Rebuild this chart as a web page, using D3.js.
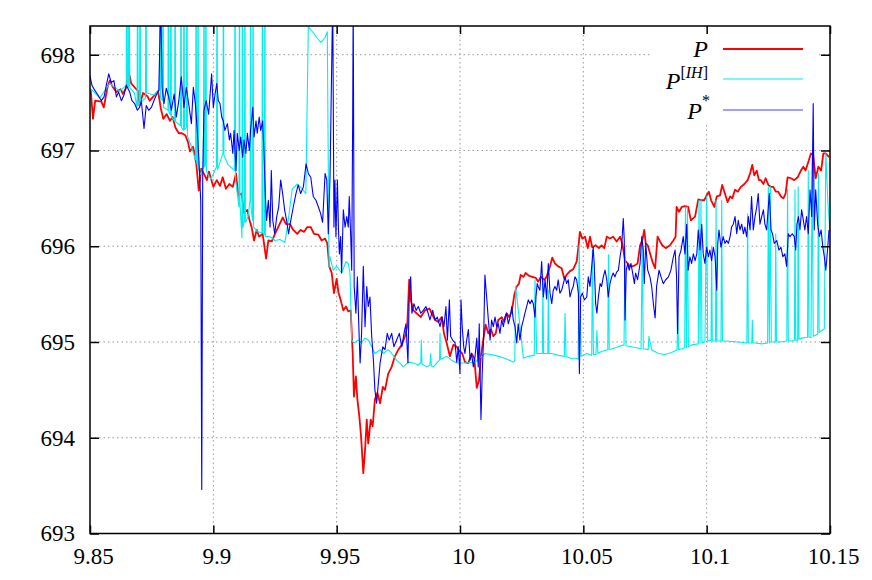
<!DOCTYPE html>
<html>
<head>
<meta charset="utf-8">
<script src="https://cdn.jsdelivr.net/npm/d3@7"></script>
<style>
  body { margin: 0; background: #fff; }
  text { font-family: "Liberation Serif", "Times New Roman", serif; }
</style>
</head>
<body>
<div id="chart-area"></div>
<script>

const xTicks = [9.85, 9.9, 9.95, 10, 10.05, 10.1, 10.15];
const yTicks = [693, 694, 695, 696, 697, 698];

// P
const seriesP = [
  [9.8503,697.63],[9.8512,697.33],[9.8521,697.52],[9.8546,697.51],[9.8556,697.45],[9.8570,697.65],
  [9.8580,697.73],[9.8593,697.66],[9.8607,697.61],[9.8624,697.64],[9.8634,697.59],[9.8647,697.66],
  [9.8657,697.82],[9.8667,697.70],[9.8684,697.65],[9.8695,697.62],[9.8701,697.47],[9.8715,697.60],
  [9.8732,697.57],[9.8742,697.52],[9.8759,697.57],[9.8776,697.62],[9.8787,697.44],[9.8797,697.33],
  [9.8811,697.38],[9.8824,697.31],[9.8835,697.35],[9.8846,697.24],[9.8860,697.18],[9.8873,697.18],
  [9.8886,697.16],[9.8897,697.09],[9.8905,696.99],[9.8918,697.04],[9.8931,696.86],[9.8941,696.58],
  [9.8951,696.81],[9.8965,696.74],[9.8974,696.69],[9.8982,696.78],[9.9000,696.62],[9.9014,696.69],
  [9.9027,696.63],[9.9038,696.72],[9.9051,696.60],[9.9065,696.65],[9.9079,696.62],[9.9092,696.76],
  [9.9101,696.53],[9.9115,696.55],[9.9124,696.35],[9.9138,696.38],[9.9146,696.28],[9.9156,696.19],
  [9.9165,696.06],[9.9176,696.17],[9.9186,696.10],[9.9200,696.13],[9.9214,695.87],[9.9223,696.06],
  [9.9237,696.05],[9.9250,696.13],[9.9263,696.20],[9.9281,696.30],[9.9295,696.23],[9.9311,696.23],
  [9.9324,696.17],[9.9340,696.13],[9.9354,696.17],[9.9368,696.15],[9.9381,696.20],[9.9395,696.20],
  [9.9408,696.13],[9.9426,696.12],[9.9439,696.06],[9.9453,696.08],[9.9462,696.03],[9.9470,695.79],
  [9.9480,695.72],[9.9489,695.51],[9.9500,695.66],[9.9507,695.52],[9.9516,695.44],[9.9527,695.33],
  [9.9538,695.37],[9.9547,695.32],[9.9557,695.33],[9.9565,694.88],[9.9570,694.43],[9.9578,694.64],
  [9.9584,694.40],[9.9592,694.22],[9.9599,694.01],[9.9608,693.63],[9.9615,693.87],[9.9622,694.19],
  [9.9628,693.94],[9.9638,694.19],[9.9646,694.12],[9.9655,694.40],[9.9665,694.47],[9.9676,694.36],
  [9.9687,694.53],[9.9696,694.50],[9.9709,694.67],[9.9723,694.74],[9.9736,694.85],[9.9750,694.92],
  [9.9764,694.97],[9.9777,695.06],[9.9786,695.16],[9.9794,695.65],[9.9800,695.44],[9.9811,695.33],
  [9.9824,695.30],[9.9841,695.26],[9.9858,695.33],[9.9876,695.35],[9.9885,695.30],[9.9899,695.23],
  [9.9912,695.21],[9.9926,695.26],[9.9935,695.09],[9.9946,694.99],[9.9959,694.85],[9.9973,694.97],
  [9.9987,694.95],[9.9993,694.92],[10.0009,694.88],[10.0020,694.79],[10.0034,694.78],[10.0047,694.88],
  [10.0058,694.83],[10.0068,694.52],[10.0077,694.60],[10.0085,694.85],[10.0094,695.02],[10.0104,695.18],
  [10.0115,695.09],[10.0126,695.13],[10.0135,695.06],[10.0145,695.09],[10.0155,695.23],[10.0169,695.26],
  [10.0180,695.21],[10.0189,695.30],[10.0199,695.26],[10.0210,695.32],[10.0220,695.49],[10.0230,695.58],
  [10.0239,695.61],[10.0246,695.70],[10.0257,695.68],[10.0266,695.72],[10.0280,695.69],[10.0293,695.68],
  [10.0307,695.67],[10.0317,695.63],[10.0328,695.68],[10.0342,695.65],[10.0351,695.68],[10.0365,695.79],
  [10.0374,695.88],[10.0385,695.82],[10.0398,695.79],[10.0412,695.77],[10.0423,695.66],[10.0432,695.70],
  [10.0446,695.74],[10.0459,695.76],[10.0473,695.84],[10.0480,695.99],[10.0486,696.15],[10.0496,696.08],
  [10.0507,696.10],[10.0518,695.98],[10.0527,696.10],[10.0536,695.99],[10.0550,696.01],[10.0563,695.98],
  [10.0574,696.01],[10.0585,695.98],[10.0595,696.10],[10.0608,696.08],[10.0621,696.10],[10.0635,696.05],
  [10.0649,696.10],[10.0658,696.03],[10.0669,695.85],[10.0680,695.82],[10.0689,695.79],[10.0698,695.79],
  [10.0709,695.80],[10.0720,695.82],[10.0730,696.01],[10.0739,696.06],[10.0747,696.17],[10.0753,696.03],
  [10.0761,696.01],[10.0770,695.93],[10.0780,695.84],[10.0791,695.77],[10.0801,696.10],[10.0811,696.05],
  [10.0820,696.01],[10.0834,695.98],[10.0851,696.01],[10.0865,696.06],[10.0874,696.10],[10.0878,696.41],
  [10.0888,696.36],[10.0899,696.41],[10.0912,696.42],[10.0925,696.41],[10.0936,696.27],[10.0953,696.31],
  [10.0966,696.49],[10.0980,696.48],[10.0990,696.48],[10.1000,696.53],[10.1009,696.57],[10.1018,696.48],
  [10.1031,696.41],[10.1041,696.52],[10.1054,696.53],[10.1063,696.64],[10.1074,696.55],[10.1085,696.46],
  [10.1095,696.52],[10.1104,696.50],[10.1115,696.59],[10.1126,696.57],[10.1139,696.62],[10.1153,696.65],
  [10.1166,696.69],[10.1176,696.76],[10.1185,696.85],[10.1193,696.74],[10.1203,696.79],[10.1212,696.69],
  [10.1220,696.69],[10.1230,696.65],[10.1239,696.71],[10.1250,696.64],[10.1261,696.62],[10.1270,696.62],
  [10.1280,696.57],[10.1290,696.57],[10.1301,696.52],[10.1311,696.50],[10.1320,696.55],[10.1328,696.72],
  [10.1342,696.71],[10.1355,696.69],[10.1369,696.72],[10.1382,696.79],[10.1392,696.83],[10.1401,696.79],
  [10.1412,696.88],[10.1423,696.97],[10.1432,696.95],[10.1442,696.71],[10.1453,696.83],[10.1464,696.79],
  [10.1473,696.97],[10.1483,696.97],[10.1496,696.93]
];

// P^[IH]
const seriesIH = [
  [9.8500,697.65],[9.8540,697.55],[9.8580,697.70],[9.8620,697.62],
  [9.8647,697.68],[9.8649,699.5],[9.8652,697.70],[9.8656,697.66],[9.8658,699.5],[9.8661,697.66],
  [9.8680,697.60],[9.8691,697.45],[9.8693,699.5],[9.8695,697.47],[9.8701,697.47],[9.8703,699.5],
  [9.8705,697.50],[9.8725,697.55],[9.8727,699.5],[9.8729,697.60],[9.8760,697.58],
  [9.8782,697.63],[9.8784,699.5],[9.8786,697.55],[9.8794,697.52],[9.8796,699.5],[9.8798,697.45],
  [9.8816,697.42],[9.8818,699.5],[9.8820,697.40],[9.8826,697.37],[9.8828,699.5],[9.8830,697.35],
  [9.8843,697.31],[9.8845,699.5],[9.8847,697.30],[9.8867,697.26],[9.8869,699.5],[9.8871,697.24],
  [9.8879,697.21],[9.8881,699.5],[9.8883,697.22],[9.8891,697.24],[9.8893,699.5],[9.8895,697.15],
  [9.8910,697.05],[9.8928,696.90],[9.8930,699.5],[9.8932,696.88],[9.8936,696.85],[9.8938,699.5],
  [9.8940,696.80],[9.8950,696.75],[9.8960,696.83],[9.8962,699.5],[9.8964,696.83],[9.8968,696.85],
  [9.8970,699.5],[9.8972,696.78],[9.8990,696.70],[9.9013,696.83],[9.9015,699.5],[9.9017,696.80],
  [9.9039,696.97],[9.9041,699.5],[9.9043,696.95],[9.9060,696.85],[9.9086,696.79],[9.9088,699.5],
  [9.9090,696.70],[9.9104,696.41],[9.9106,699.5],[9.9108,696.45],[9.9116,696.09],[9.9118,699.5],
  [9.9120,696.20],[9.9126,696.27],[9.9128,699.5],[9.9130,696.25],[9.9140,696.30],
  [9.9149,696.48],[9.9151,699.5],[9.9153,696.40],[9.9159,696.27],[9.9161,699.5],[9.9163,696.20],
  [9.9180,696.15],[9.9197,696.14],[9.9199,699.5],[9.9201,696.14],[9.9207,696.12],[9.9209,699.5],
  [9.9211,696.10],[9.9230,696.10],[9.9250,696.06],[9.9270,696.07],[9.9290,696.04],[9.9300,696.20],
  [9.9320,696.60],[9.9340,696.65],[9.9360,696.60],[9.9375,696.55],[9.9385,698.29],[9.9399,698.25],
  [9.9419,698.18],[9.9436,698.13],[9.9453,698.18],[9.9462,698.24],[9.9469,695.78],
  [9.9473,695.89],[9.9486,695.75],[9.9500,695.79],[9.9520,695.72],[9.9538,695.84],[9.9547,695.82],
  [9.9554,695.72],[9.9561,695.02],[9.9570,694.99],[9.9588,695.02],[9.9601,694.99],[9.9615,695.04],
  [9.9628,695.02],[9.9642,694.95],[9.9655,694.88],[9.9676,694.92],[9.9689,694.88],[9.9709,694.92],
  [9.9723,694.88],[9.9743,694.81],[9.9757,694.78],[9.9770,694.74],[9.9790,694.79],[9.9811,694.78],
  [9.9831,694.76],[9.9841,694.78],[9.9843,695.02],[9.9846,694.77],[9.9865,694.74],[9.9878,694.76],
  [9.9881,694.88],[9.9884,694.75],[9.9892,694.74],[9.9905,694.78],[9.9917,694.81],[9.9919,695.09],
  [9.9921,694.82],[9.9932,694.83],[9.9946,694.85],[9.9966,694.81],[9.9987,694.78],
  [10.0020,694.78],[10.0061,694.79],[10.0088,694.85],[10.0101,694.88],[10.0142,694.86],[10.0182,694.83],
  [10.0216,694.79],[10.0222,694.80],[10.0226,695.58],[10.0257,694.83],[10.0277,694.85],[10.0301,694.86],
  [10.0304,695.65],[10.0311,694.88],[10.0334,694.88],[10.0336,695.65],[10.0339,694.88],
  [10.0356,694.88],[10.0358,695.54],[10.0361,694.88],[10.0372,694.88],[10.0399,694.86],
  [10.0423,694.85],[10.0426,695.30],[10.0430,694.85],[10.0446,694.83],[10.0473,694.83],
  [10.0479,694.82],[10.0483,696.00],[10.0491,694.85],[10.0514,694.88],[10.0534,694.86],
  [10.0537,695.96],[10.0541,694.87],[10.0551,694.87],[10.0555,695.12],[10.0559,694.88],
  [10.0574,694.90],[10.0599,694.92],[10.0602,695.91],[10.0605,694.92],[10.0642,694.95],
  [10.0665,694.97],[10.0669,695.99],[10.0673,694.96],[10.0696,694.95],[10.0734,694.93],
  [10.0739,696.06],[10.0743,694.93],[10.0763,694.92],[10.0766,695.06],[10.0777,694.92],
  [10.0804,694.88],[10.0831,694.87],[10.0858,694.89],[10.0880,694.92],[10.0883,695.33],
  [10.0886,694.92],[10.0899,694.93],[10.0911,694.94],[10.0914,696.41],[10.0918,694.94],
  [10.0922,696.41],[10.0926,694.95],[10.0939,694.97],[10.0966,694.98],[10.0969,696.48],
  [10.0973,694.98],[10.0977,696.48],[10.0981,694.99],[10.0993,695.00],[10.1000,696.52],
  [10.1004,695.01],[10.1013,695.02],[10.1018,695.01],[10.1020,695.99],[10.1023,695.01],
  [10.1036,695.01],[10.1038,696.48],[10.1041,695.01],[10.1058,695.01],[10.1061,696.48],
  [10.1064,695.01],[10.1074,695.01],[10.1128,695.00],[10.1163,694.99],[10.1166,696.34],
  [10.1169,694.99],[10.1183,694.99],[10.1185,695.23],[10.1188,694.99],[10.1196,694.99],
  [10.1223,694.98],[10.1247,694.99],[10.1250,696.62],[10.1254,694.99],[10.1258,696.62],
  [10.1262,695.00],[10.1270,695.00],[10.1278,695.00],[10.1280,696.13],[10.1283,695.00],
  [10.1297,695.00],[10.1325,695.01],[10.1328,696.59],[10.1331,695.01],[10.1344,695.01],
  [10.1356,695.02],[10.1358,696.59],[10.1361,695.02],[10.1369,695.02],[10.1371,696.62],
  [10.1374,695.03],[10.1385,695.04],[10.1409,695.05],[10.1412,696.79],[10.1415,695.05],
  [10.1423,695.05],[10.1428,696.93],[10.1432,695.06],[10.1450,695.08],[10.1453,696.76],
  [10.1456,695.10],[10.1467,695.12],[10.1477,695.14],[10.1483,696.97],[10.1491,696.48],
  [10.1500,696.13]
];

// P*
const seriesStar = [
  [9.8500,697.78],[9.8508,697.68],[9.8519,697.63],[9.8532,697.58],[9.8546,697.52],[9.8557,697.56],
  [9.8566,697.68],[9.8576,697.80],[9.8586,697.71],[9.8597,697.73],[9.8607,697.56],[9.8616,697.61],
  [9.8627,697.52],[9.8638,697.58],[9.8647,697.68],[9.8661,697.61],[9.8670,697.52],[9.8681,697.49],
  [9.8692,697.42],[9.8701,697.45],[9.8708,697.52],[9.8719,697.23],[9.8728,697.47],[9.8738,697.42],
  [9.8749,697.45],[9.8759,697.52],[9.8769,697.58],[9.8779,697.63],[9.8787,698.60],[9.8792,697.66],
  [9.8800,697.49],[9.8809,697.65],[9.8819,697.56],[9.8830,697.42],[9.8841,697.59],[9.8850,697.35],
  [9.8860,697.52],[9.8870,697.77],[9.8881,697.45],[9.8890,697.66],[9.8900,697.49],[9.8911,697.28],
  [9.8919,697.66],[9.8927,697.49],[9.8935,697.21],[9.8943,696.83],[9.8949,696.46],[9.8953,693.46],
  [9.8957,696.76],[9.8962,697.42],[9.8971,697.52],[9.8981,697.38],[9.8993,697.80],[9.9000,697.45],
  [9.9007,697.59],[9.9014,697.70],[9.9020,697.52],[9.9027,697.49],[9.9034,697.35],[9.9040,697.31],
  [9.9047,697.21],[9.9057,697.28],[9.9065,697.11],[9.9070,697.18],[9.9079,696.97],[9.9084,697.21],
  [9.9092,696.79],[9.9097,697.18],[9.9105,697.00],[9.9111,697.14],[9.9119,696.93],[9.9124,697.11],
  [9.9132,696.97],[9.9138,697.18],[9.9146,697.00],[9.9151,697.21],[9.9160,697.45],[9.9165,697.14],
  [9.9173,697.31],[9.9178,697.18],[9.9186,697.35],[9.9192,697.21],[9.9200,697.31],[9.9205,697.00],
  [9.9211,696.52],[9.9216,696.27],[9.9223,696.48],[9.9230,696.20],[9.9235,696.79],[9.9241,696.27],
  [9.9249,696.13],[9.9257,696.31],[9.9265,696.41],[9.9273,696.69],[9.9281,696.55],[9.9289,696.38],
  [9.9297,696.27],[9.9305,696.13],[9.9314,696.27],[9.9324,696.41],[9.9335,696.55],[9.9344,696.64],
  [9.9354,696.55],[9.9365,696.62],[9.9376,696.86],[9.9385,696.76],[9.9395,696.72],[9.9405,696.52],
  [9.9416,696.48],[9.9426,696.41],[9.9435,696.34],[9.9443,696.25],[9.9453,696.76],[9.9460,696.69],
  [9.9466,696.13],[9.9473,696.72],[9.9484,698.60],[9.9489,696.20],[9.9493,696.69],[9.9497,696.10],
  [9.9503,696.69],[9.9507,696.20],[9.9511,695.92],[9.9516,696.10],[9.9520,695.72],[9.9527,696.38],
  [9.9534,696.20],[9.9541,696.31],[9.9547,696.20],[9.9551,696.52],[9.9557,696.10],[9.9561,695.75],
  [9.9565,697.38],[9.9567,698.60],[9.9571,695.58],[9.9578,695.30],[9.9584,695.68],[9.9589,695.23],
  [9.9595,694.78],[9.9601,695.09],[9.9608,695.79],[9.9615,695.16],[9.9622,695.58],[9.9628,695.37],
  [9.9635,695.47],[9.9642,695.06],[9.9649,694.81],[9.9655,694.50],[9.9662,694.36],[9.9669,694.57],
  [9.9676,694.78],[9.9687,694.95],[9.9696,694.92],[9.9705,695.09],[9.9713,695.02],[9.9723,695.09],
  [9.9732,694.95],[9.9743,695.02],[9.9754,695.09],[9.9764,694.95],[9.9773,695.09],[9.9781,695.19],
  [9.9789,694.78],[9.9794,695.47],[9.9800,695.68],[9.9805,695.30],[9.9813,695.40],[9.9822,695.33],
  [9.9831,695.37],[9.9841,695.30],[9.9851,695.33],[9.9862,695.37],[9.9871,695.30],[9.9878,695.23],
  [9.9889,695.33],[9.9899,695.23],[9.9908,695.26],[9.9919,695.16],[9.9927,695.26],[9.9935,695.16],
  [9.9943,695.37],[9.9949,695.02],[9.9957,695.44],[9.9962,695.06],[9.9970,695.02],[9.9980,694.99],
  [9.9987,694.79],[9.9993,694.95],[10.0000,694.67],[10.0004,695.44],[10.0009,695.16],[10.0015,694.95],
  [10.0020,694.88],[10.0027,695.02],[10.0034,695.13],[10.0041,694.81],[10.0047,694.88],[10.0054,694.74],
  [10.0061,694.85],[10.0068,695.04],[10.0074,694.74],[10.0078,695.19],[10.0082,694.60],[10.0085,694.19],
  [10.0090,694.67],[10.0096,695.06],[10.0101,695.70],[10.0108,695.47],[10.0115,695.23],[10.0122,695.02],
  [10.0128,695.23],[10.0135,695.16],[10.0142,695.26],[10.0149,695.16],[10.0155,695.19],[10.0162,695.09],
  [10.0169,695.23],[10.0176,695.16],[10.0182,695.26],[10.0189,695.30],[10.0196,695.19],[10.0203,695.26],
  [10.0210,695.37],[10.0216,695.23],[10.0223,695.16],[10.0230,694.99],[10.0236,695.19],[10.0243,695.02],
  [10.0250,695.16],[10.0257,695.23],[10.0263,695.30],[10.0270,695.37],[10.0277,695.44],[10.0284,695.40],
  [10.0291,695.44],[10.0297,695.40],[10.0304,695.26],[10.0308,695.47],[10.0313,695.61],[10.0317,695.58],
  [10.0324,695.54],[10.0331,695.84],[10.0338,695.47],[10.0345,695.65],[10.0351,695.45],[10.0358,695.82],
  [10.0365,695.51],[10.0372,695.40],[10.0378,695.54],[10.0385,695.58],[10.0392,695.54],[10.0398,695.65],
  [10.0405,695.51],[10.0412,695.54],[10.0419,695.61],[10.0426,695.68],[10.0432,695.61],[10.0439,695.65],
  [10.0446,695.47],[10.0453,695.54],[10.0459,695.58],[10.0466,695.68],[10.0473,695.65],[10.0480,695.51],
  [10.0484,694.67],[10.0489,695.47],[10.0496,695.51],[10.0504,695.44],[10.0514,695.47],[10.0520,695.68],
  [10.0527,695.58],[10.0536,695.85],[10.0540,695.99],[10.0544,695.82],[10.0550,695.40],[10.0555,695.30],
  [10.0561,695.47],[10.0568,695.61],[10.0574,695.58],[10.0581,695.68],[10.0588,695.75],[10.0595,695.65],
  [10.0601,695.47],[10.0608,695.61],[10.0615,695.68],[10.0621,695.72],[10.0628,695.68],[10.0635,695.73],
  [10.0642,695.75],[10.0649,695.89],[10.0655,695.99],[10.0662,696.29],[10.0666,696.06],[10.0669,695.23],
  [10.0674,695.75],[10.0680,695.82],[10.0686,695.75],[10.0693,695.82],[10.0700,695.72],[10.0707,695.61],
  [10.0712,695.72],[10.0720,695.65],[10.0730,695.82],[10.0737,696.10],[10.0743,695.96],[10.0747,695.61],
  [10.0753,696.03],[10.0761,695.75],[10.0770,695.68],[10.0777,695.58],[10.0784,695.40],[10.0791,695.25],
  [10.0797,695.58],[10.0807,695.75],[10.0815,695.68],[10.0824,695.61],[10.0834,695.65],[10.0845,695.68],
  [10.0855,695.75],[10.0865,695.89],[10.0872,695.96],[10.0878,695.68],[10.0882,695.09],[10.0888,695.89],
  [10.0896,695.96],[10.0905,696.10],[10.0912,695.92],[10.0919,696.23],[10.0925,695.75],[10.0932,695.89],
  [10.0939,695.82],[10.0946,695.92],[10.0953,695.85],[10.0960,695.92],[10.0966,696.17],[10.0973,695.96],
  [10.0980,696.23],[10.0986,695.92],[10.0993,695.82],[10.1000,695.99],[10.1007,695.89],[10.1013,695.96],
  [10.1020,695.85],[10.1027,695.99],[10.1034,695.89],[10.1041,695.54],[10.1045,696.03],[10.1050,696.17],
  [10.1058,695.99],[10.1067,696.10],[10.1074,696.03],[10.1081,696.06],[10.1088,696.03],[10.1095,696.10],
  [10.1101,696.20],[10.1108,696.23],[10.1115,696.31],[10.1122,696.13],[10.1128,696.27],[10.1135,696.17],
  [10.1142,696.23],[10.1149,696.13],[10.1155,696.20],[10.1162,696.10],[10.1169,696.31],[10.1176,696.17],
  [10.1182,696.52],[10.1189,696.17],[10.1196,696.31],[10.1203,696.41],[10.1209,696.55],[10.1216,696.23],
  [10.1223,696.31],[10.1230,696.38],[10.1236,696.23],[10.1243,696.17],[10.1250,696.41],[10.1254,696.55],
  [10.1261,696.17],[10.1267,696.13],[10.1274,696.03],[10.1284,696.06],[10.1293,695.96],[10.1301,695.99],
  [10.1309,695.89],[10.1317,695.92],[10.1324,695.79],[10.1331,696.13],[10.1338,696.10],[10.1347,696.13],
  [10.1355,696.10],[10.1361,695.96],[10.1366,696.23],[10.1372,696.31],[10.1378,696.17],[10.1385,696.38],
  [10.1392,696.27],[10.1398,696.17],[10.1405,696.31],[10.1412,696.13],[10.1419,696.59],[10.1426,696.31],
  [10.1432,697.49],[10.1436,696.17],[10.1442,696.59],[10.1450,696.23],[10.1457,696.10],[10.1464,696.17],
  [10.1471,695.99],[10.1477,695.89],[10.1483,695.75],[10.1490,695.96],[10.1496,696.17]
];

const series = [
  { name: 'P', data: seriesP, color: '#ff0000', width: 1.8 },
  { name: 'IH', data: seriesIH, color: '#00eeee', width: 1.1 },
  { name: 'star', data: seriesStar, color: '#0000ff', width: 1.1 }
];

const width = 872, height = 580;
const plotLeft = 90, plotRight = 830, plotTop = 26, plotBottom = 533.5;

const x = d3.scaleLinear().domain([9.85, 10.15]).range([plotLeft, plotRight]);
const y = d3.scaleLinear().domain([693, 698.3]).range([plotBottom, plotTop]);

const svg = d3.select('#chart-area').append('svg')
  .attr('width', width)
  .attr('height', height);

svg.append('defs').append('clipPath').attr('id', 'plot-clip')
  .append('rect')
    .attr('x', plotLeft).attr('y', plotTop)
    .attr('width', plotRight - plotLeft).attr('height', plotBottom - plotTop);

// grid
const grid = svg.append('g')
  .attr('stroke', '#999')
  .attr('stroke-width', 1)
  .attr('stroke-dasharray', '1.5,3');

grid.selectAll('.gx').data(xTicks.slice(1, -1)).enter().append('line')
  .attr('x1', d => x(d)).attr('x2', d => x(d))
  .attr('y1', plotTop).attr('y2', plotBottom);

grid.selectAll('.gy').data(yTicks.slice(1)).enter().append('line')
  .attr('x1', plotLeft).attr('x2', plotRight)
  .attr('y1', d => y(d)).attr('y2', d => y(d));

// key background hides the grid behind it
svg.append('rect')
  .attr('x', 651).attr('y', 28)
  .attr('width', 167).attr('height', 95)
  .attr('fill', '#fff');

// curves
const line = d3.line()
  .x(d => x(d[0]))
  .y(d => y(d[1]));

svg.append('g')
  .attr('clip-path', 'url(#plot-clip)')
  .selectAll('path')
  .data(series)
  .enter().append('path')
    .attr('d', d => line(d.data))
    .attr('fill', 'none')
    .attr('stroke', d => d.color)
    .attr('stroke-width', d => d.width)
    .attr('stroke-linejoin', 'round');

// axes, ticks pointing inward
const fmt = d => String(d);

const axisB = svg.append('g')
  .attr('transform', `translate(0,${plotBottom})`)
  .call(d3.axisBottom(x).tickValues(xTicks).tickFormat(fmt).tickSize(-8).tickPadding(14));
const axisT = svg.append('g')
  .attr('transform', `translate(0,${plotTop})`)
  .call(d3.axisTop(x).tickValues(xTicks).tickFormat('').tickSize(-8));
const axisL = svg.append('g')
  .attr('transform', `translate(${plotLeft},0)`)
  .call(d3.axisLeft(y).tickValues(yTicks).tickFormat(fmt).tickSize(-9).tickPadding(15));
const axisR = svg.append('g')
  .attr('transform', `translate(${plotRight},0)`)
  .call(d3.axisRight(y).tickValues(yTicks).tickFormat('').tickSize(-9));

[axisB, axisT, axisL, axisR].forEach(a => {
  a.attr('font-family', null).attr('font-size', null);
  a.select('.domain').remove();
  a.selectAll('line').attr('stroke', '#000').attr('stroke-width', 1.5);
  a.selectAll('text')
    .attr('fill', '#000')
    .style('font-family', '"Liberation Serif", "Times New Roman", serif')
    .style('font-size', '23px');
});
axisB.selectAll('text').attr('dx', 3);

// frame
svg.append('rect')
  .attr('x', plotLeft).attr('y', plotTop)
  .attr('width', plotRight - plotLeft).attr('height', plotBottom - plotTop)
  .attr('fill', 'none')
  .attr('stroke', '#000')
  .attr('stroke-width', 1.5);

// key
const keyRows = [
  { y: 49, color: '#ff0000', width: 1.8 },
  { y: 79, color: '#00eeee', width: 1.1 },
  { y: 110, color: '#8080ff', width: 1.6 }
];

svg.selectAll('.key-line').data(keyRows).enter().append('line')
  .attr('x1', 723).attr('x2', 803)
  .attr('y1', d => d.y).attr('y2', d => d.y)
  .attr('stroke', d => d.color)
  .attr('stroke-width', d => d.width);

const key1 = svg.append('text').attr('x', 708).attr('y', 57).attr('text-anchor', 'end')
  .style('font-size', '24px');
key1.append('tspan').attr('font-style', 'italic').text('P');

const key2 = svg.append('text').attr('x', 708).attr('y', 89).attr('text-anchor', 'end')
  .style('font-size', '24px');
key2.append('tspan').attr('font-style', 'italic').text('P');
key2.append('tspan').attr('dy', -11).style('font-size', '16px').text('[');
key2.append('tspan').attr('font-style', 'italic').style('font-size', '16px').text('IH');
key2.append('tspan').style('font-size', '16px').text(']');

const key3 = svg.append('text').attr('x', 710).attr('y', 119).attr('text-anchor', 'end')
  .style('font-size', '24px');
key3.append('tspan').attr('font-style', 'italic').text('P');
key3.append('tspan').attr('dy', -13).style('font-size', '16px').text('*');

</script>
</body>
</html>
